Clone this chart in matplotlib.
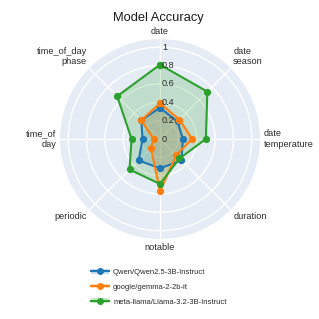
import numpy as np
import matplotlib.pyplot as plt
from matplotlib.lines import Line2D
from matplotlib.patches import Patch
from matplotlib.transforms import offset_copy

plt.rcParams['font.family'] = ['Liberation Sans', 'DejaVu Sans']

# Categorias (en sentido horario desde arriba)
categorias = ['date', 'date\nseason', 'date\ntemperature', 'duration',
              'notable', 'periodic', 'time_of\nday', 'time_of_day\nphase']

modelos = ['Qwen/Qwen2.5-3B-Instruct', 'google/gemma-2-2b-it',
           'meta-llama/Llama-3.2-3B-Instruct']

qwen = [0.34, 0.27, 0.25, 0.33, 0.32, 0.33, 0.19, 0.29]
gemma = [0.39, 0.30, 0.35, 0.25, 0.57, 0.14, 0.07, 0.29]
llama = [0.81, 0.73, 0.50, 0.30, 0.49, 0.47, 0.31, 0.66]

colores = ['#1f77b4', '#ff7f0e', '#2ca02c']
r_ticks = [0, 0.2, 0.4, 0.6, 0.8, 1.0]
r_labels = ['0', '0.2', '0.4', '0.6', '0.8', '1']
r_max = 1.09
texto = '#2a2a2a'

fig = plt.figure(figsize=(3.19, 3.19), dpi=100)
ax = fig.add_axes([60 / 319, 80 / 319, 200 / 319, 200 / 319], projection='polar')
ax.set_theta_zero_location('N')
ax.set_theta_direction(-1)
ax.set_facecolor('#E5ECF6')
ax.spines['polar'].set_visible(False)

angulos = np.linspace(0, 2 * np.pi, len(categorias), endpoint=False)
ang_cerrado = np.append(angulos, angulos[0])

for valores, color in zip([qwen, gemma, llama], colores):
    v = np.append(valores, valores[0])
    ax.fill(ang_cerrado, v, color=color, alpha=0.2, lw=0, zorder=2)
    ax.plot(ang_cerrado, v, color=color, lw=1.5, marker='o', ms=4.2, zorder=3)

ax.set_ylim(0, r_max)
ax.set_yticks(r_ticks)
ax.set_yticklabels([])
ax.set_xticks(angulos)
ax.set_xticklabels([])
ax.grid(color='white', lw=1)
ax.tick_params(length=0)

# Etiquetas radiales sobre el eje vertical
trans = offset_copy(ax.transData, fig=fig, x=2, y=0, units='dots')
for r, lbl in zip(r_ticks, r_labels):
    ax.text(0, r, lbl, transform=trans, ha='left', va='center',
            fontsize=6.6, color=texto, zorder=5)

# Etiquetas de categorias
alineacion = [('center', 'bottom'), ('left', 'bottom'), ('left', 'center'),
              ('left', 'top'), ('center', 'top'), ('right', 'top'),
              ('right', 'center'), ('right', 'bottom')]
for ang, cat, (ha, va) in zip(angulos, categorias, alineacion):
    ax.text(ang, r_max * 1.035, cat, ha=ha, va=va, fontsize=6.6,
            color=texto, linespacing=1.15, clip_on=False)

fig.text(0.497, 1 - 18 / 319, 'Model Accuracy', ha='center', va='center',
         fontsize=9.3, color='#1a1a1a')

handles = [(Patch(facecolor=c, alpha=0.25, lw=0),
            Line2D([], [], color=c, lw=1.5, marker='o', ms=4))
           for c in colores]
fig.legend(handles, modelos, loc='upper left', bbox_to_anchor=(84 / 319, 1 - 262 / 319),
           frameon=False, fontsize=5.5, handlelength=2.4, handleheight=0.6,
           labelspacing=1.0, handletextpad=0.5, labelcolor=texto)

fig.savefig('out.png', dpi=100, facecolor='white')
